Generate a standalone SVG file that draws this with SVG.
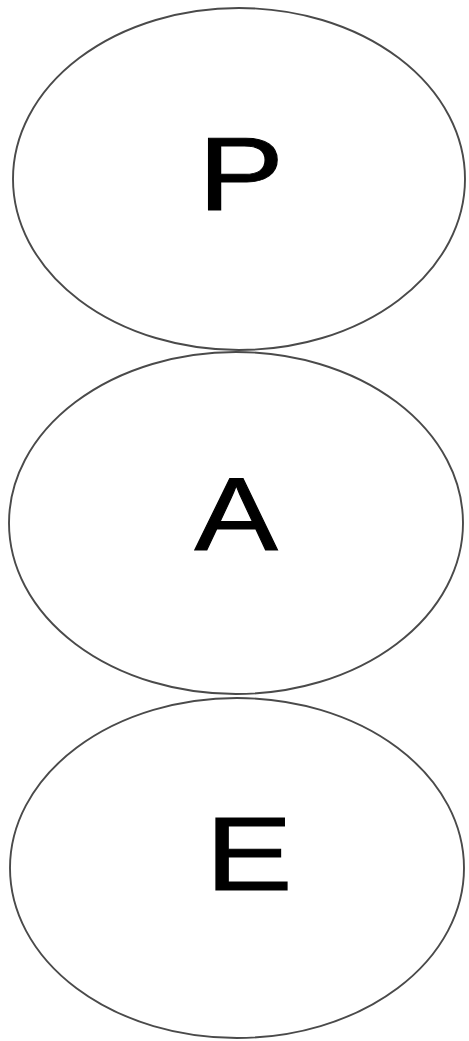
<svg xmlns="http://www.w3.org/2000/svg" width="469" height="1041" viewBox="0 0 469 1041">
<style>
.node ellipse{fill:#ffffff;stroke:#4a4a4a;stroke-width:1.9}
.node text{font-family:"Liberation Sans",Arial,sans-serif;font-size:104px;fill:#000000;stroke:#000000;stroke-width:1;text-anchor:middle}
</style>
<rect width="469" height="1041" fill="#ffffff"/>
<g id="connectors"></g>
<g id="node-P" class="node">
<ellipse cx="239" cy="179" rx="226" ry="171"/>
<text transform="translate(241,210) scale(1.24,1)">P</text>
</g>
<g id="node-A" class="node">
<ellipse cx="236" cy="523" rx="227" ry="171"/>
<text transform="translate(236,550) scale(1.2,1)">A</text>
</g>
<g id="node-E" class="node">
<ellipse cx="237" cy="868" rx="227" ry="170"/>
<text transform="translate(249,890) scale(1.26,1)">E</text>
</g>
</svg>
